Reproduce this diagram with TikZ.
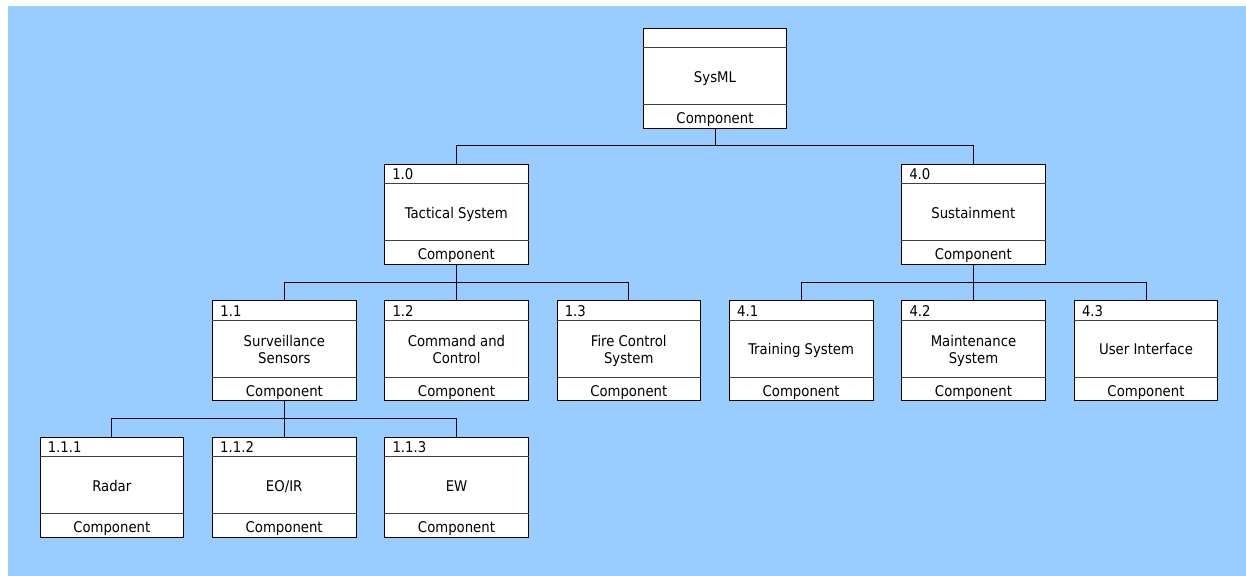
\documentclass[tikz,border=0pt]{standalone}
\usepackage{fontspec}
\setmainfont{DejaVu Sans Condensed}
\begin{document}
\definecolor{canvasblue}{HTML}{99CCFF}
\definecolor{rulegray}{HTML}{404040}
\begin{tikzpicture}[x=1bp, y=-1bp,
  compbox/.style={draw=black, fill=white, line width=0.9bp, minimum width=143.5bp, minimum height=100bp, inner sep=0pt},
  divider/.style={draw=rulegray, line width=0.9bp},
  wire/.style={draw=black, line width=0.9bp},
  idtext/.style={anchor=base west, inner sep=0pt},
  celltext/.style={anchor=base, inner sep=0pt},
  font=\fontsize{14.8}{16.5}\selectfont]
  \useasboundingbox (0,0) rectangle (1246,576);
  \fill[canvasblue] (8,6) rectangle (1246,576);

  % component block: name, centre x, top y, number, title line 1, title line 2
  \newcommand\compblock[6]{%
    \node[compbox] (#1) at (#2,#3+50) {};
    \draw[divider] ([yshift=-20bp]#1.north west) -- ([yshift=-20bp]#1.north east);
    \draw[divider] ([yshift=24bp]#1.south west) -- ([yshift=24bp]#1.south east);
    \node[idtext] (#1-id) at ([xshift=8bp,yshift=-16bp]#1.north west) {#4};
    \def\secondline{#6}%
    \ifx\secondline\empty
      \node[celltext] (#1-title) at ([yshift=-54.7bp]#1.north) {#5};
    \else
      \node[celltext] (#1-title) at ([yshift=-46.7bp]#1.north) {#5};
      \node[celltext] (#1-title2) at ([yshift=-63.3bp]#1.north) {#6};
    \fi
    \node[celltext] (#1-kind) at ([yshift=5bp]#1.south) {Component};
  }

  % levels of the breakdown
  \compblock{sys}{715}{28.3}{}{SysML}{}
  \compblock{tac}{456.3}{164.3}{1.0}{Tactical System}{}
  \compblock{sus}{973.3}{164.3}{4.0}{Sustainment}{}
  \compblock{surv}{284.4}{300.7}{1.1}{Surveillance}{Sensors}
  \compblock{cc}{456.5}{300.7}{1.2}{Command and}{Control}
  \compblock{fc}{628.8}{300.7}{1.3}{Fire Control}{System}
  \compblock{train}{801.2}{300.7}{4.1}{Training System}{}
  \compblock{maint}{973.5}{300.7}{4.2}{Maintenance}{System}
  \compblock{ui}{1146}{300.7}{4.3}{User Interface}{}
  \compblock{radar}{111.8}{437.3}{1.1.1}{Radar}{}
  \compblock{eoir}{284.2}{437.3}{1.1.2}{EO/IR}{}
  \compblock{ew}{456.5}{437.3}{1.1.3}{EW}{}

  % horizontal bus heights
  \coordinate (busA) at (0,145.7);
  \coordinate (busB) at (0,282.3);
  \coordinate (busC) at (0,418.7);

  % tree connectors
  \foreach \c in {tac,sus}
    \draw[wire] (sys.south) -- (sys.south |- busA) -| (\c.north);
  \foreach \c in {surv,cc,fc}
    \draw[wire] (tac.south) -- (tac.south |- busB) -| (\c.north);
  \foreach \c in {train,maint,ui}
    \draw[wire] (sus.south) -- (sus.south |- busB) -| (\c.north);
  \foreach \c in {radar,eoir,ew}
    \draw[wire] (surv.south) -- (surv.south |- busC) -| (\c.north);
\end{tikzpicture}
\end{document}
